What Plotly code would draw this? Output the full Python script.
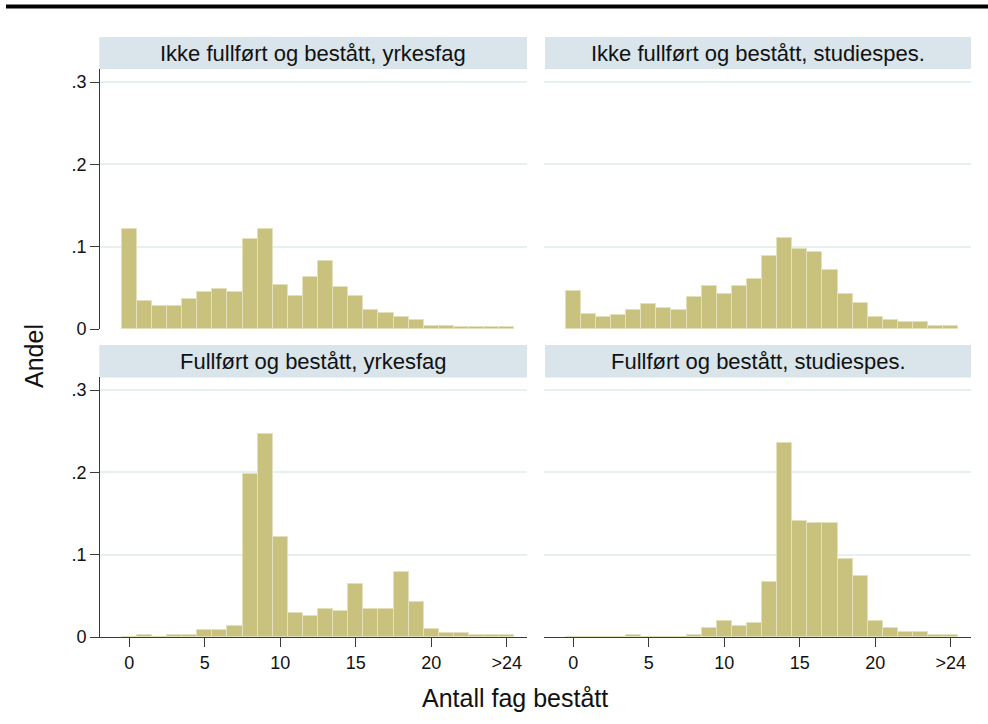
import plotly.graph_objects as go

# Andel elever etter antall fag bestått (0..24, siste gruppe >24)
antall_fag = list(range(26))
tick_vals = [0, 5, 10, 15, 20, 25]
tick_text = ["0", "5", "10", "15", "20", ">24"]

ikke_yrkesfag = [0.122, 0.034, 0.028, 0.028, 0.036, 0.045, 0.049, 0.045, 0.109, 0.121,
                 0.053, 0.040, 0.063, 0.083, 0.051, 0.040, 0.023, 0.020, 0.014, 0.011,
                 0.004, 0.004, 0.0025, 0.0025, 0.0025, 0.0025]
ikke_studiespes = [0.046, 0.018, 0.015, 0.017, 0.023, 0.030, 0.026, 0.023, 0.039, 0.052,
                   0.043, 0.052, 0.061, 0.089, 0.111, 0.097, 0.093, 0.072, 0.043, 0.031,
                   0.014, 0.011, 0.009, 0.008, 0.004, 0.004]
full_yrkesfag = [0.0, 0.002, 0.0005, 0.002, 0.003, 0.008, 0.008, 0.013, 0.198, 0.247,
                 0.122, 0.029, 0.025, 0.034, 0.031, 0.064, 0.034, 0.034, 0.079, 0.043,
                 0.010, 0.005, 0.005, 0.003, 0.003, 0.003]
full_studiespes = [0.0, 0.0, 0.0, 0.0, 0.002, 0.0, 0.0, 0.0, 0.002, 0.011,
                   0.020, 0.013, 0.017, 0.067, 0.236, 0.141, 0.139, 0.139, 0.095, 0.074,
                   0.020, 0.011, 0.0065, 0.0065, 0.003, 0.002]

panel_titles = ["Ikke fullført og bestått, yrkesfag", "Ikke fullført og bestått, studiespes.",
                "Fullført og bestått, yrkesfag", "Fullført og bestått, studiespes."]
panel_data = [ikke_yrkesfag, ikke_studiespes, full_yrkesfag, full_studiespes]

W, H = 988, 724
FIG_H = 734   # the page is shot a little taller than 724 and squeezed back
FONT = "Liberation Sans, Arial, sans-serif"
BAR_COLOR = "#C9C27E"
BAR_LINE = "#E4E0BC"
GRID = "#E6F0F1"
STRIP = "#D9E5EA"
AXIS = "#3a3a3a"


def px(x):
    return x / W


def py(y):
    return 1 - y / H


# panel boxes in pixels: (left, right, top, bottom)
col_x = [(100, 527), (544, 971)]
row_y = [(69, 329), (377, 637)]
strip_y = [(37, 69), (345, 377.5)]

fig = go.Figure()
layout = dict(
    width=W, height=FIG_H,
    margin=dict(l=0, r=0, t=0, b=0),
    paper_bgcolor="white", plot_bgcolor="white",
    showlegend=False, bargap=0,
    font=dict(family=FONT, size=18, color="#111"),
    shapes=[], annotations=[],
)

for i in range(4):
    row, col = divmod(i, 2)
    n = "" if i == 0 else str(i + 1)
    fig.add_trace(go.Bar(
        x=antall_fag, y=panel_data[i], width=1,
        marker=dict(color=BAR_COLOR, line=dict(color=BAR_LINE, width=1)),
        xaxis="x" + n, yaxis="y" + n, hoverinfo="x+y",
    ))
    left, right = col_x[col]
    top, bottom = row_y[row]
    bottom_row = row == 1
    left_col = col == 0
    layout["xaxis" + n] = dict(
        domain=[px(left), px(right)], anchor="y" + n,
        range=[-1.94, 26.34], tickvals=tick_vals, ticktext=tick_text,
        showticklabels=bottom_row, ticks="outside" if bottom_row else "",
        ticklen=9, tickcolor=AXIS, showline=bottom_row, linecolor=AXIS,
        linewidth=1, showgrid=False, zeroline=False,
        tickfont=dict(size=18),
    )
    layout["yaxis" + n] = dict(
        domain=[py(bottom), py(top)], anchor="x" + n,
        range=[0, 0.316], tickvals=[0, 0.1, 0.2, 0.3], ticktext=["0", ".1", ".2", ".3"],
        showticklabels=left_col, ticks="outside" if left_col else "",
        ticklen=9, tickcolor=AXIS, showline=left_col, linecolor=AXIS,
        linewidth=1, showgrid=True, gridcolor=GRID, gridwidth=1.5, zeroline=False,
        tickfont=dict(size=18),
    )
    # strip header
    s_top, s_bot = strip_y[row]
    s_left = left - 0.7 if left_col else left + 1
    layout["shapes"].append(dict(
        type="rect", xref="paper", yref="paper",
        x0=px(s_left), x1=px(right), y0=py(s_bot), y1=py(s_top),
        fillcolor=STRIP, line=dict(width=0), layer="below",
    ))
    layout["annotations"].append(dict(
        text=panel_titles[i], xref="paper", yref="paper",
        x=px((s_left + right) / 2), y=py((s_top + s_bot) / 2),
        xanchor="center", yanchor="middle", showarrow=False,
        font=dict(size=22, color="#111"),
    ))

# thick rule at the top of the figure
layout["shapes"].append(dict(
    type="line", xref="paper", yref="paper",
    x0=px(6), x1=1, y0=py(6.5), y1=py(6.5),
    line=dict(color="black", width=4),
))

layout["annotations"].append(dict(
    text="Antall fag bestått", xref="paper", yref="paper",
    x=px(515), y=py(698), xanchor="center", yanchor="middle",
    showarrow=False, font=dict(size=25, color="#111"),
))
layout["annotations"].append(dict(
    text="Andel", xref="paper", yref="paper",
    x=px(34), y=py(356), xanchor="center", yanchor="middle", textangle=-90,
    showarrow=False, font=dict(size=25, color="#111"),
))

fig.update_layout(**layout)
# page body margin off so the figure fills the window exactly
fig.write_html("out.html", config={"displayModeBar": False},
               post_script="document.body.style.margin='0';")
